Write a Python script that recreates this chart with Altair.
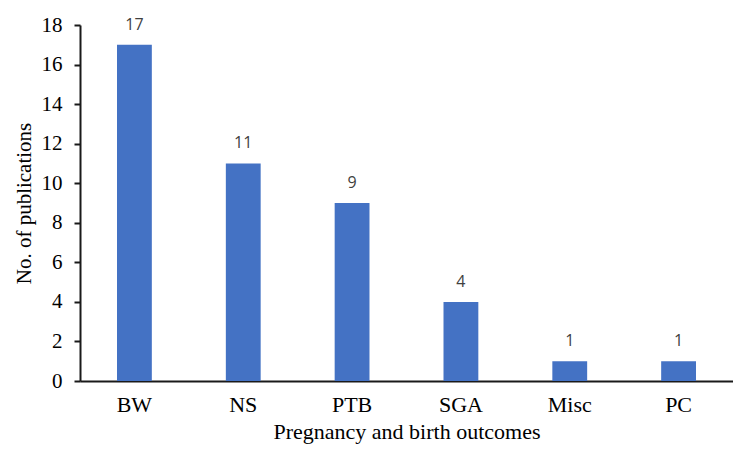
import altair as alt
import pandas as pd

categories = ["BW", "NS", "PTB", "SGA", "Misc", "PC"]
counts = [17, 11, 9, 4, 1, 1]

df = pd.DataFrame({"outcome": categories, "count": counts})

base = alt.Chart(df).encode(
    x=alt.X("outcome:N", sort=categories,
            scale=alt.Scale(paddingInner=0.68, paddingOuter=0.34),
            axis=alt.Axis(title="Pregnancy and birth outcomes", labelAngle=0,
                          ticks=False, labelPadding=13, titlePadding=6,
                          domainColor="#1a1a1a", domainWidth=2,
                          labelFont="Liberation Serif", labelFontSize=22, labelColor="#000",
                          titleFont="Liberation Serif", titleFontSize=22, titleFontWeight="normal",
                          titleColor="#000")),
    y=alt.Y("count:Q", scale=alt.Scale(domain=[0, 18]),
            axis=alt.Axis(title="No. of publications", values=list(range(0, 19, 2)),
                          labelOverlap=False,
                          grid=False, tickSize=6, tickWidth=2, tickColor="#1a1a1a",
                          domainColor="#1a1a1a", domainWidth=2, labelPadding=12,
                          titlePadding=7,
                          labelFont="Liberation Serif", labelFontSize=21, labelColor="#000",
                          titleFont="Liberation Serif", titleFontSize=21, titleFontWeight="normal",
                          titleColor="#000")),
)

bars = base.mark_bar(color="#4472C4")

labels = base.mark_text(dy=-12, baseline="bottom", font="Open Sans", fontSize=16,
                        color="#404040").encode(text=alt.Text("count:Q"))

chart = (bars + labels).properties(
    width=653, height=356,
    autosize=alt.AutoSizeParams(type="none"),
    padding={"left": 72, "top": 17, "right": 0, "bottom": 66},
).configure_view(stroke=None)

chart.save("out.html", embed_options={"renderer": "svg", "actions": False})
